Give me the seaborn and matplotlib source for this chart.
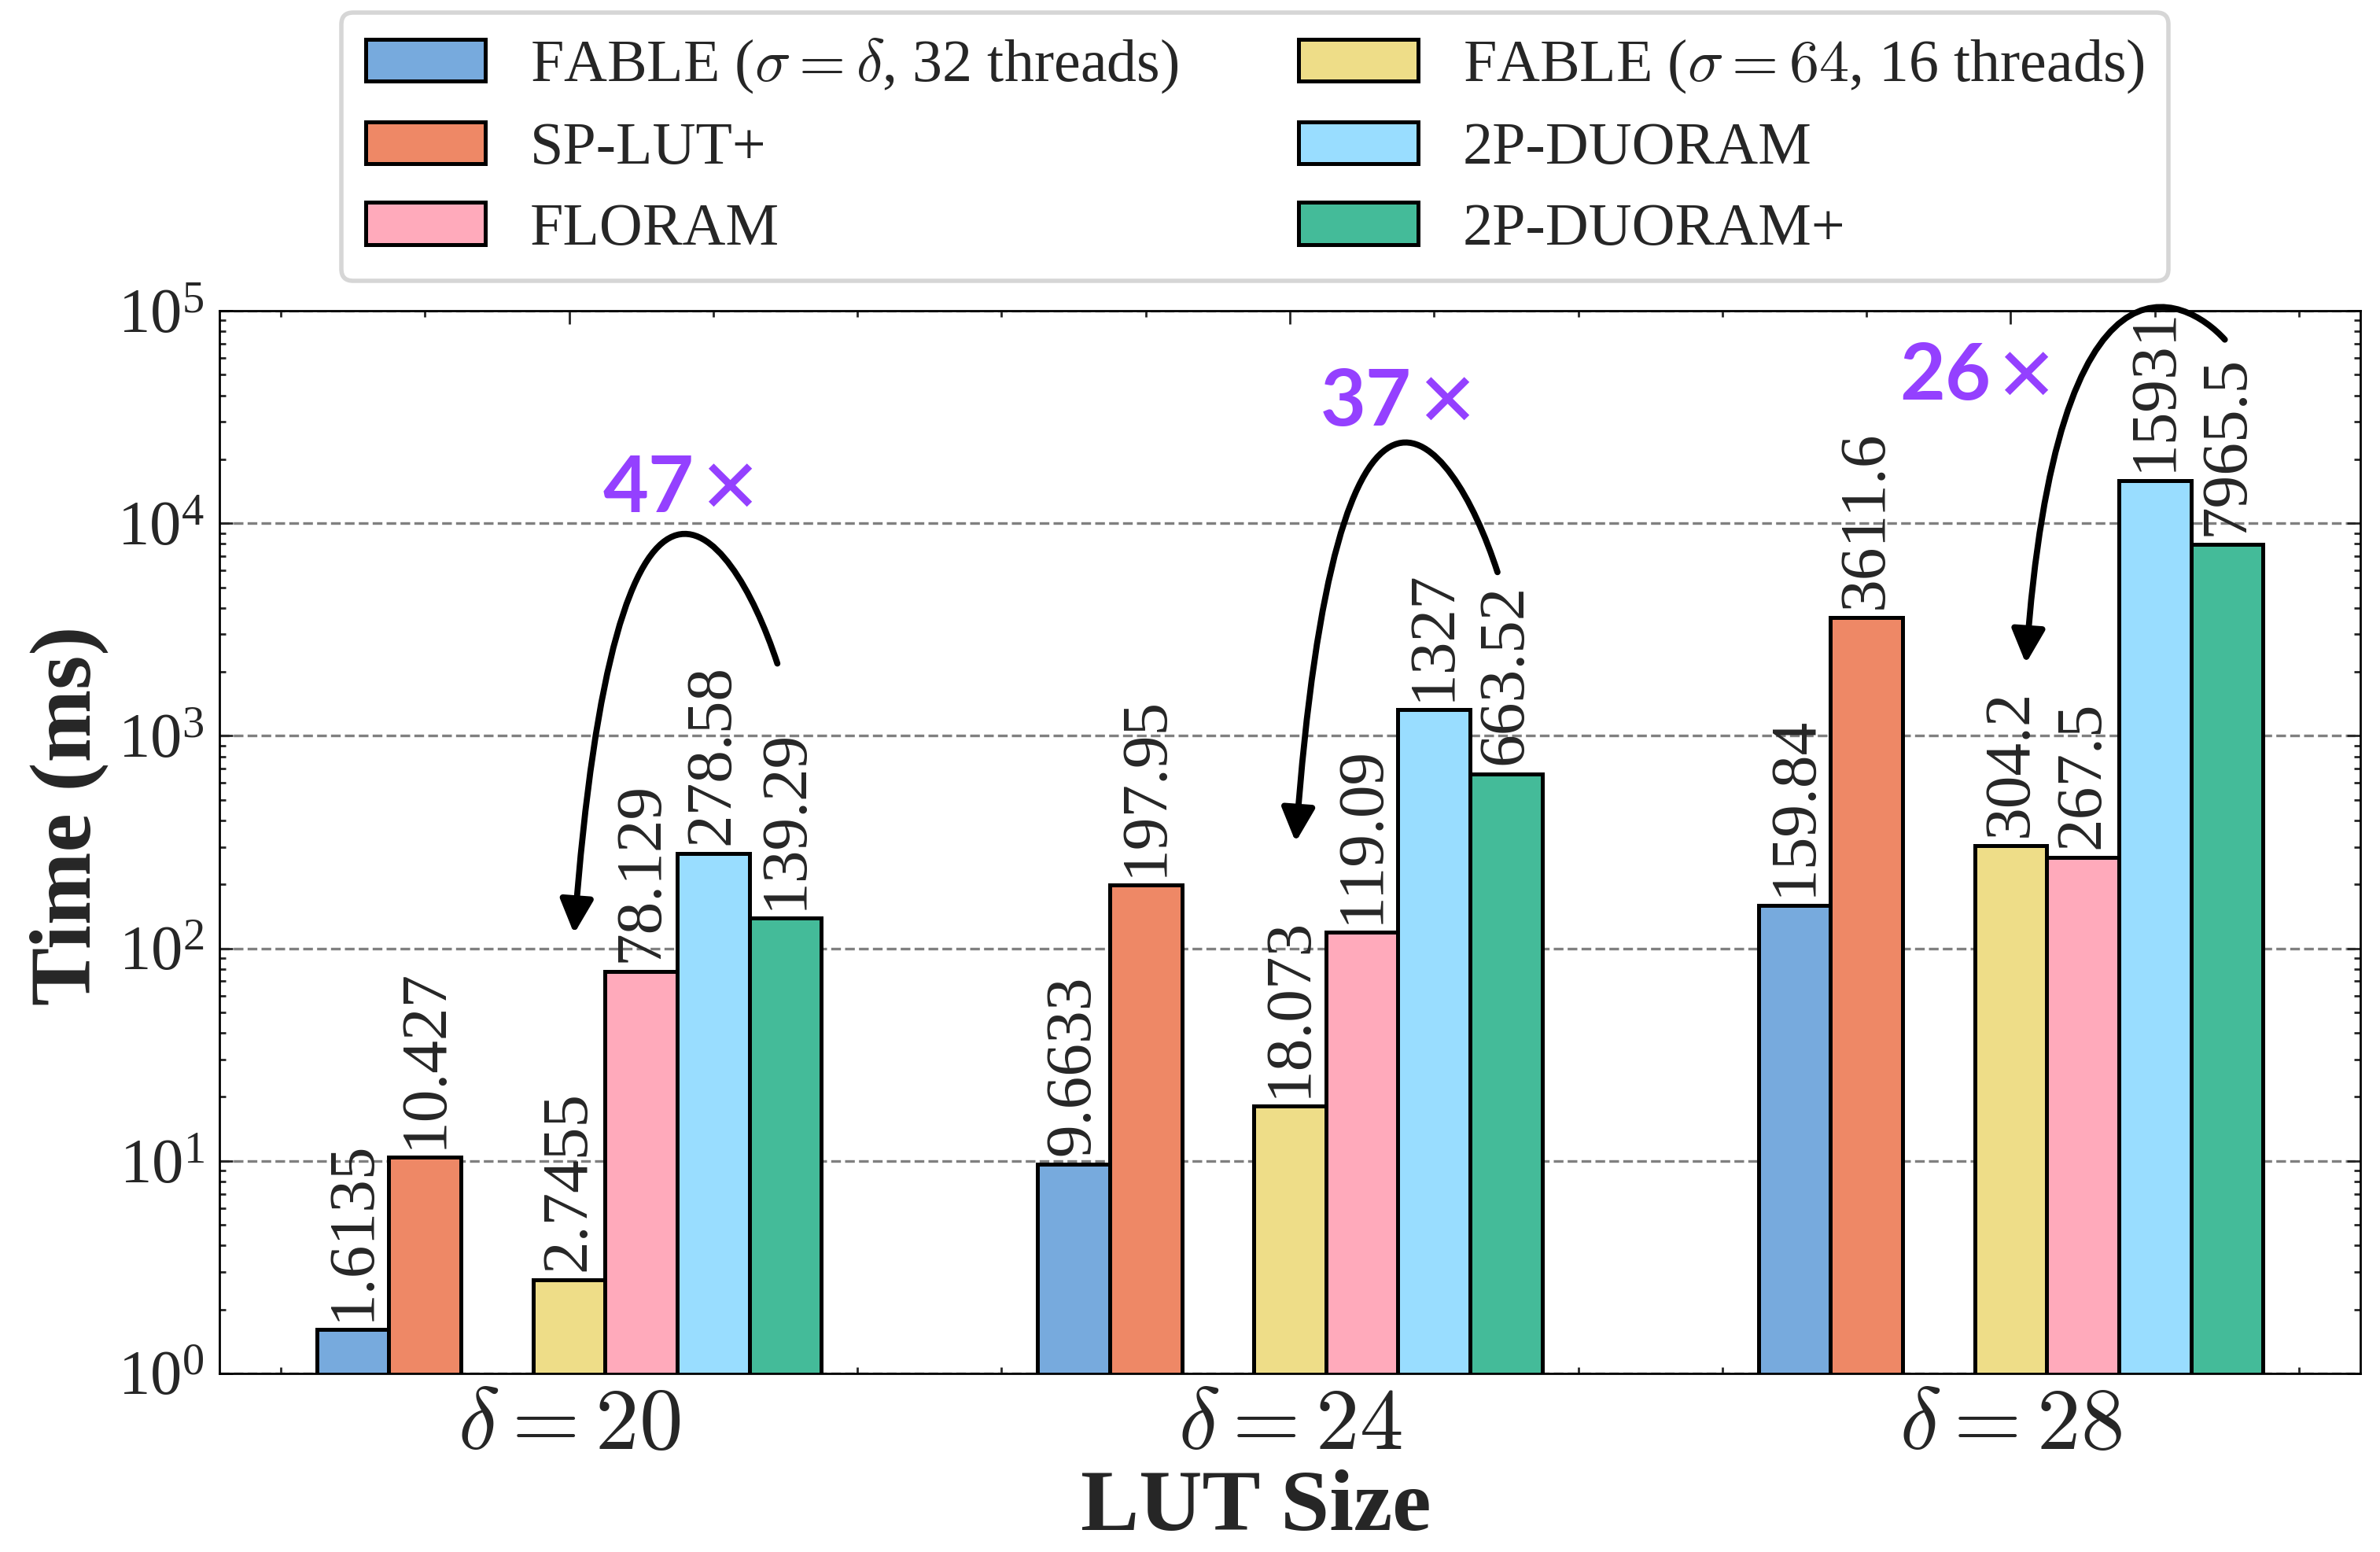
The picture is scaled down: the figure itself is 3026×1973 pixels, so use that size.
import numpy as np
import pandas as pd
import matplotlib
matplotlib.use('Agg')
import matplotlib.pyplot as plt
import seaborn as sns
from matplotlib.patches import Patch, FancyArrowPatch
from matplotlib.path import Path
from matplotlib.ticker import MultipleLocator, LogLocator

# ---------------- data ----------------
lut_sizes = [r'$\delta = 20$', r'$\delta = 24$', r'$\delta = 28$']

fable_delta = [1.6135, 9.6633, 159.84]
sp_lut = [10.427, 197.95, 3611.6]
fable_64 = [2.7455, 18.073, 304.2]
floram = [78.129, 119.09, 267.5]
duoram = [278.58, 1327, 15931]
duoram_plus = [139.29, 663.52, 7965.5]

names = [r'FABLE ($\sigma = \delta$, 32 threads)', 'SP-LUT+', ' ',
         r'FABLE ($\sigma = 64$, 16 threads)', 'FLORAM', '2P-DUORAM', '2P-DUORAM+']
colores = ['#77AADD', '#EE8866', '#FFFFFF', '#EEDD88', '#FFAABB', '#99DDFF', '#44BB99']
series = {names[0]: fable_delta, names[1]: sp_lut, names[3]: fable_64,
          names[4]: floram, names[5]: duoram, names[6]: duoram_plus}

speedups = ['47', '37', '26']
# anchor between digits and the x sign (offset from group, log10 of y, baseline)
speedup_pos = [(0.1735, 4.053), (0.169, 4.46), (-0.028, 4.58)]
# curved arrows: start, ctrl1, ctrl2, end  (offset from group, log10 of y)
arrow_pts = [
    [(0.289, 3.34), (0.222, 4.03), (0.064, 4.66), (0.007, 2.069)],
    [(0.288, 3.77), (0.222, 4.46), (0.064, 5.09), (0.008, 2.50)],
    [(0.297, 4.864), (0.242, 5.07), (0.064, 5.39), (0.021, 3.34)],
]

rows = []
for m, vals in series.items():
    for lut, v in zip(lut_sizes, vals):
        rows.append({'LUT': lut, 'Method': m, 'Time': v})
df = pd.DataFrame(rows)

# ---------------- style ----------------
sns.set_style('white')
plt.rcParams['font.family'] = 'serif'
plt.rcParams['font.serif'] = ['Liberation Serif', 'DejaVu Serif']
plt.rcParams['mathtext.fontset'] = 'cm'
plt.rcParams['axes.linewidth'] = 0.5
plt.rcParams['axes.edgecolor'] = 'black'

fig = plt.figure(figsize=(3026 / 400, 1973 / 400), dpi=400)
ax = fig.add_axes([279 / 3026, 1 - 1746 / 1973, (3001 - 279) / 3026, (1746 - 395) / 1973])

sns.barplot(data=df, x='LUT', y='Time', hue='Method', hue_order=names, order=lut_sizes,
            palette=colores, saturation=1, width=0.7, edgecolor='black', linewidth=0.9,
            errorbar=None, legend=False, ax=ax, zorder=2)

for c in ax.containers:
    ax.bar_label(c, fmt='%g', rotation=90, padding=2, fontsize=15)

ax.set_yscale('log')

# arrows + speedup text
for i, pts in enumerate(arrow_pts):
    verts = [(i + dx, 10 ** ly) for dx, ly in pts]
    path = Path(verts, [Path.MOVETO, Path.CURVE4, Path.CURVE4, Path.CURVE4])
    arr = FancyArrowPatch(path=path, arrowstyle='-|>,head_length=0.65,head_width=0.32',
                          mutation_scale=10, lw=1.4, color='black', clip_on=False,
                          transform=ax.transData, zorder=5)
    ax.add_patch(arr)
    dx, ly = speedup_pos[i]
    ax.annotate(speedups[i], (i + dx, 10 ** ly), ha='right', va='baseline', color='#9440FF',
                fontsize=18, fontweight='bold', family=['Lato', 'DejaVu Sans'], zorder=6)
    ax.annotate('\u2715', (i + dx, 10 ** ly), xytext=(1, 0), textcoords='offset points',
                ha='left', va='baseline', color='#9440FF', fontsize=17,
                family=['DejaVu Sans'], zorder=6)

ax.set_ylim(1, 1e5)
ax.set_xlim(-0.485, 2.485)

ax.yaxis.set_major_locator(LogLocator(base=10, numticks=10))
ax.yaxis.set_minor_locator(LogLocator(base=10, subs=np.arange(2, 10) * 1.0, numticks=20))
ax.xaxis.set_minor_locator(MultipleLocator(0.2))
ax.tick_params(which='both', direction='in', top=True, right=True, bottom=True, left=True)
ax.tick_params(which='major', length=3, width=0.5)
ax.tick_params(which='minor', length=1.5, width=0.5)
ax.tick_params(axis='x', labelsize=20)
ax.tick_params(axis='y', labelsize=14.5)

ax.yaxis.grid(True, which='major', ls='--', color='gray', lw=0.6)
ax.xaxis.grid(False)
ax.set_axisbelow(True)

ax.set_xlabel('LUT Size', fontsize=20, fontweight='bold', labelpad=0.5, x=0.484)
ax.set_ylabel('Time (ms)', fontsize=20, fontweight='bold', labelpad=2, y=0.525)

handles = [Patch(facecolor=colores[k], edgecolor='black', linewidth=0.9, label=names[k])
           for k in [0, 1, 4, 3, 5, 6]]
leg = ax.legend(handles=handles, ncol=2, loc='lower center', bbox_to_anchor=(0.4837, 1.028),
                borderaxespad=0, fontsize=13.7, frameon=True, fancybox=True,
                edgecolor='0.8', handlelength=2.0, handleheight=0.7,
                handletextpad=0.75, columnspacing=2.0, labelspacing=0.44, borderpad=0.4)
leg.get_frame().set_linewidth(1.0)

fig.savefig('out.png', dpi=400)
